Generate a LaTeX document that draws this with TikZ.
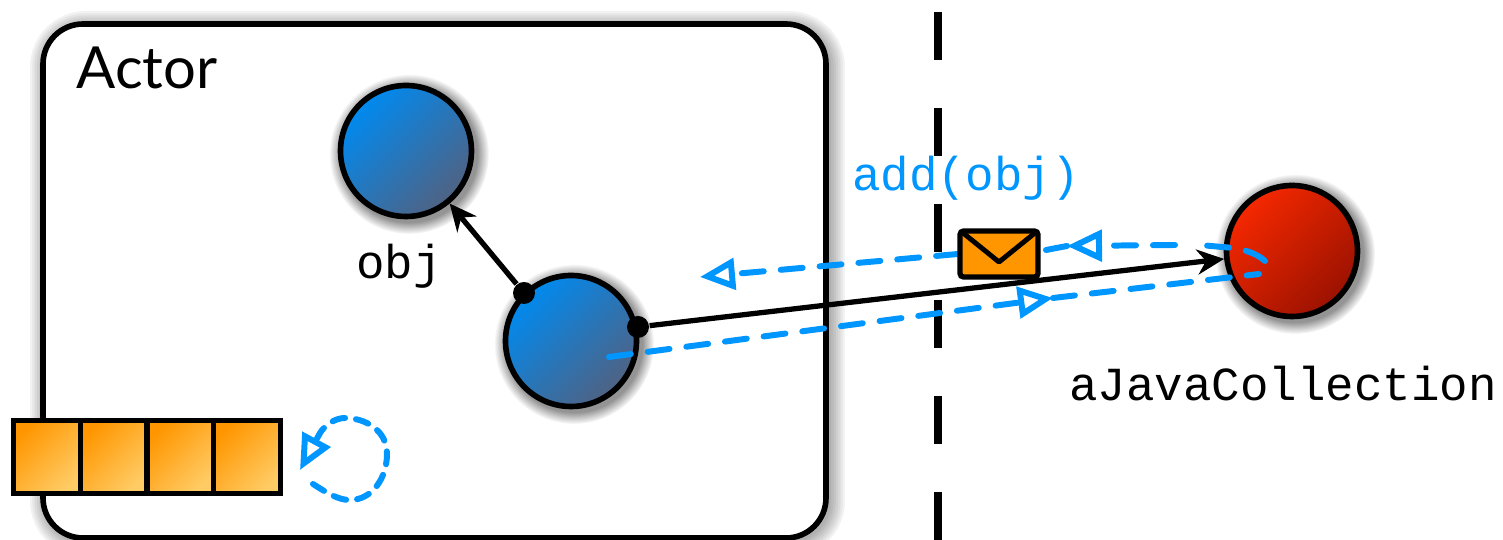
\documentclass[tikz,border=0pt]{standalone}
\usepackage{fontspec}
\setmainfont{Lato}
\setmonofont{Liberation Mono}
\usetikzlibrary{arrows.meta,shadows}

\begin{document}
\begin{tikzpicture}[
% Estilo de los objetos
objeto/.style={circle, inner sep=0pt, minimum size=1.31cm, line width=1.6pt, draw=black,
  circular drop shadow={shadow xshift=.7pt, shadow yshift=-.7pt, shadow scale=1.22, fill=black, opacity=.42}},
azul/.style={objeto, top color=azulA, bottom color=azulB, shading angle=45},
rojo/.style={objeto, top color=rojoA, bottom color=rojoB, shading angle=45},
% Estilo de la cola
celda/.style={rectangle, inner sep=0pt, minimum width=.667cm, minimum height=.73cm, line width=1.5pt, draw=black,
  top color=naranjaA, bottom color=naranjaB, shading angle=45},
% Estilo de los puntos
punto/.style={circle, inner sep=0pt, minimum size=.22cm, fill=black},
% Estilo de las flechas
flecha/.style={-{Stealth[length=.27cm, width=.25cm]}, line width=1.5pt, color=black},
mensaje/.style={line width=1.7pt, color=celeste, line cap=round, dash pattern=on .22cm off .17cm},
punta/.style={-{Triangle[open, length=.35cm, width=.31cm, line width=1.7pt]}},
vuelta/.style={line width=1.7pt, color=celeste, line cap=round, dash pattern=on .13cm off .11cm},
% Estilo del texto
codigo/.style={font=\ttfamily\fontsize{13.5}{16}\selectfont, inner sep=0pt},
]
\definecolor{azulA}{RGB}{0,138,240}
\definecolor{azulB}{RGB}{80,98,130}
\definecolor{rojoA}{RGB}{245,40,0}
\definecolor{rojoB}{RGB}{155,18,0}
\definecolor{naranjaA}{RGB}{255,150,0}
\definecolor{naranjaB}{RGB}{255,203,100}
\definecolor{celeste}{RGB}{0,150,255}
\useasboundingbox (0,0) rectangle (15.03,5.4);

% Actor
\foreach \ancho in {1,...,7}
  \draw[black, opacity=.05, line width=\ancho*1.3pt, rounded corners=.4cm] (.46,-.01) rectangle (8.29,5.13);
\node (actor) at (4.345,2.59) [rectangle, rounded corners=.4cm, draw=black, fill=white, line width=1.6pt,
  inner sep=0pt, minimum width=7.83cm, minimum height=5.14cm]{};
\node (nombre) at (1.47,4.72) [font=\fontsize{16.5}{20}\selectfont, inner sep=0pt]{Actor};

% Frontera
\coordinate (arriba) at (9.38,5.28);
\coordinate (abajo) at (9.38,0);
\draw[black, line width=2pt, dash pattern=on .48cm off .48cm] (arriba) -- (abajo);

% Nodos
\node (obj) at (4.06,3.89) [azul]{};
\node (ref) at (5.71,1.99) [azul]{};
\node (col) at (12.92,2.89) [rojo]{};
\node (puntoA) at (5.24,2.47) [punto]{};
\node (puntoB) at (6.38,2.13) [punto]{};

% Cola
\node (c1) at (.468,.83) [celda]{};
\node (c2) at (1.135,.83) [celda]{};
\node (c3) at (1.805,.83) [celda]{};
\node (c4) at (2.472,.83) [celda]{};

% Mensaje
\coordinate (salida) at (6.09,1.83);
\coordinate (puntaIda) at (10.53,2.42);
\coordinate (curvaA) at (12.59,2.66);
\coordinate (curvaB) at (12.65,2.79);
\coordinate (curvaC) at (12.22,2.93);
\coordinate (puntaVuelta) at (10.67,2.94);
\coordinate (sobreD) at (10.46,2.9);
\coordinate (sobreI) at (9.58,2.86);
\coordinate (llegada) at (7.0,2.63);
\draw[mensaje, punta] (salida) -- (puntaIda);
\draw[mensaje] (puntaIda) -- (curvaA);
\draw[mensaje] (curvaB) .. controls (12.55,2.88) and (12.4,2.92) .. (curvaC) -- (12.0,2.95);
\draw[mensaje, punta] (11.75,2.95) -- (puntaVuelta);
\draw[mensaje] (puntaVuelta) -- (sobreD);
\draw[mensaje, punta] (sobreI) -- (llegada);

% Flechas
\draw[flecha] (puntoA) -- (obj);
\draw[flecha] (puntoB) -- (col);

% Sobre
\node (sobre) at (9.99,2.86) [rectangle, rounded corners=1pt, draw=black, fill=naranjaA, line width=1.5pt,
  inner sep=0pt, minimum width=.78cm, minimum height=.46cm]{};
\draw[line width=1.4pt, line join=round, shorten <=1.2pt, shorten >=1.2pt] (sobre.north west) -- (9.99,2.78) -- (sobre.north east);

% Vuelta de la cola
\coordinate (vueltaI) at (3.13,.56);
\coordinate (vueltaP) at (3.0,.7);
\draw[vuelta, punta] (vueltaI) .. controls (3.27,.47) and (3.38,.4) .. (3.5,.4)
  .. controls (3.72,.4) and (3.87,.62) .. (3.87,.86)
  .. controls (3.87,1.1) and (3.65,1.22) .. (3.45,1.22)
  .. controls (3.35,1.22) and (3.25,1.15) .. (3.2,1.07) -- (vueltaP);

% Textos
\node (tobj) at (3.99,2.74) [codigo]{obj};
\node (tcol) at (12.83,1.56) [codigo]{aJavaCollection};
\node (tadd) at (9.66,3.62) [codigo, text=celeste]{add(obj)};
\end{tikzpicture}
\end{document}
